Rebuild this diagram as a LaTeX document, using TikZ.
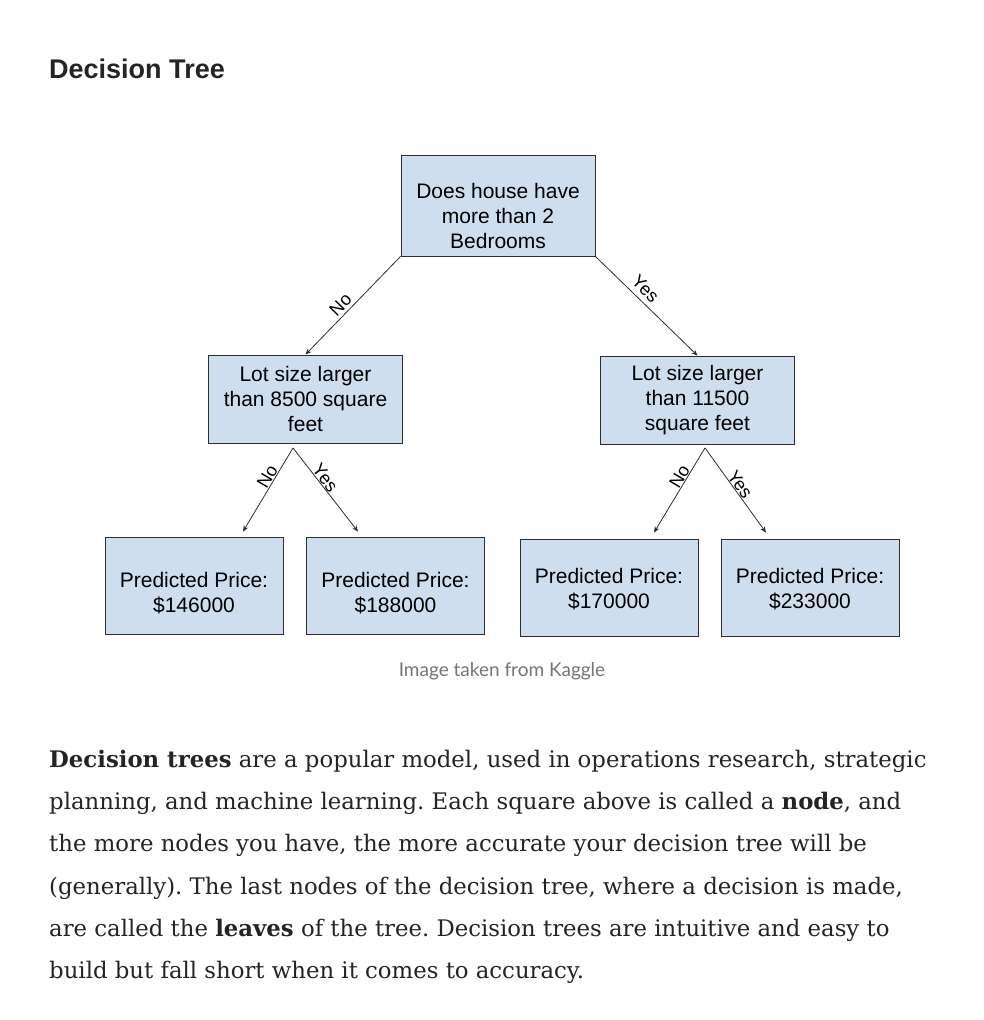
\documentclass[tikz,border=0pt]{standalone}
\usepackage{fontspec}
\setmainfont{DejaVu Serif}
\setsansfont{Liberation Sans}
\newfontfamily\capfont{Lato}
\usepackage{xcolor}
\usetikzlibrary{arrows.meta,positioning}
\definecolor{ink}{HTML}{242424}
\definecolor{muted}{HTML}{757575}
\definecolor{boxfill}{HTML}{CFDEEF}
\definecolor{boxline}{HTML}{2E2E2E}
\frenchspacing
\tikzset{
  every node/.style={font=\sffamily},
  box/.style={draw=boxline,line width=0.9pt,fill=boxfill,inner sep=0pt},
  txt/.style={align=center,font=\sffamily\fontsize{21}{25}\selectfont,inner sep=0pt},
  split/.style={box,minimum width=194pt,minimum height=88pt},
  leaf/.style={box,minimum width=178pt,minimum height=97pt},
  ar/.style={-{Stealth[length=6pt,width=5pt]},draw=boxline,line width=0.8pt},
  lab/.style={font=\sffamily\fontsize{18}{18}\selectfont,inner sep=0.5pt,sloped,above},
}

\begin{document}
\begin{tikzpicture}[x=1pt,y=-1pt]
\useasboundingbox[fill=white] (0,0) rectangle (984,1020);

% heading
\node[anchor=base west,inner sep=0pt,text=ink,font=\sffamily\bfseries\fontsize{27}{27}\selectfont] (title) at (49,78) {Decision Tree};

% tree
\node[split,minimum height=101pt,
      label={[txt,name=roottxt,yshift=-10pt]center:Does house have\\more than 2\\Bedrooms}] (root) at (498,205.5) {};
\node[split,label={[txt,name=lmtxt]center:Lot size larger\\than 8500 square\\feet}] (lm) at (305.5,399) {};
\node[split,label={[txt,name=rmtxt]center:Lot size larger\\than 11500\\square feet}] (rm) at (697.5,400) {};
\node[leaf,label={[txt,name=l1txt,yshift=-8pt]center:Predicted Price:\\\$146000}] (l1) at (194,585.5) {};
\node[leaf,label={[txt,name=l2txt,yshift=-8pt]center:Predicted Price:\\\$188000}] (l2) at (395.5,585.5) {};
\node[leaf,label={[txt,name=l3txt,yshift=-2pt]center:Predicted Price:\\\$170000}] (l3) at (609,587.5) {};
\node[leaf,label={[txt,name=l4txt,yshift=-2pt]center:Predicted Price:\\\$233000}] (l4) at (810,587.5) {};

\draw[ar] (root.south west) -- node[lab,pos=0.56,inner sep=3pt] {No} (lm.north);
\draw[ar] (root.south east) -- node[lab,pos=0.41,inner sep=5pt] {Yes} (rm.north);

\coordinate (lsplit) at ([xshift=-12.5pt,yshift=-4.5pt]lm.south);
\coordinate (rsplit) at ([xshift=7.5pt,yshift=-3.5pt]rm.south);
\draw[ar] (lsplit) -- node[lab,pos=0.39] {No} ([xshift=49pt,yshift=5pt]l1.north);
\draw[ar] (lsplit) -- node[lab,pos=0.41] {Yes} ([xshift=-37.5pt,yshift=5pt]l2.north);
\draw[ar] (rsplit) -- node[lab,pos=0.38] {No} ([xshift=45pt,yshift=6pt]l3.north);
\draw[ar] (rsplit) -- node[lab,pos=0.48] {Yes} ([xshift=-44pt,yshift=6pt]l4.north);

% caption
\node[anchor=base,inner sep=0pt,text=muted,font=\capfont\fontsize{19}{19}\selectfont] (cap) at (502,676) {Image taken from Kaggle};

% paragraph
\node[anchor=north west,inner sep=0pt,align=left,text=ink,font=\rmfamily\fontsize{22.8}{42.2}\selectfont] (body) at (49,750)
  {\textbf{Decision trees} are a popular model, used in operations research, strategic\\
   planning, and machine learning. Each square above is called a \textbf{node}, and\\
   the more nodes you have, the more accurate your decision tree will be\\
   (generally). The last nodes of the decision tree, where a decision is made,\\
   are called the \textbf{leaves} of the tree. Decision trees are intuitive and easy to\\
   build but fall short when it comes to accuracy.};
\end{tikzpicture}
\end{document}
